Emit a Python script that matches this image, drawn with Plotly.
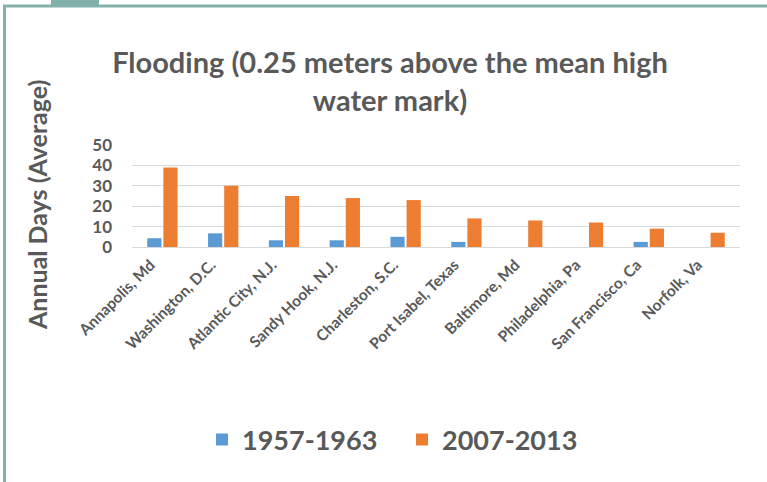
import plotly.graph_objects as go

cities = ["Annapolis, Md", "Washington, D.C.", "Atlantic City, N.J.", "Sandy Hook, N.J.",
          "Charleston, S.C.", "Port Isabel, Texas", "Baltimore, Md", "Philadelphia, Pa",
          "San Francisco, Ca", "Norfolk, Va"]
days_1957_1963 = [4.3, 6.7, 3.3, 3.3, 5.0, 2.5, 0, 0, 2.5, 0]
days_2007_2013 = [39, 30, 25, 24, 23, 14, 13, 12, 9, 7]
y_ticks = [0, 10, 20, 30, 40, 50]

W, H = 767, 482
L, R, T, B = 132, 740, 145, 247
TEXT = "#595959"
FONT = "Lato"
BORDER = "#82B0AA"


def px_x(px):
    return (px - L) / (R - L)


def px_y(py):
    return (B - py) / (B - T)


fig = go.Figure()
fig.add_trace(go.Bar(x=cities, y=days_1957_1963, name="1957-1963",
                     marker=dict(color="#5B9BD5", line=dict(width=0))))
fig.add_trace(go.Bar(x=cities, y=days_2007_2013, name="2007-2013",
                     marker=dict(color="#ED7D31", line=dict(width=0))))

fig.update_layout(
    width=W, height=H,
    margin=dict(l=L, r=W - R, t=T, b=H - B, autoexpand=False),
    paper_bgcolor="white", plot_bgcolor="white",
    barmode="group", bargap=0.47, bargroupgap=0.12,
    font=dict(family=FONT, color=TEXT),
    title=dict(text="Flooding (0.25 meters above the mean high<br>water mark)",
               x=390 / W, xanchor="center", y=1 - 73 / H, yanchor="middle",
               font=dict(family=FONT, size=29, color=TEXT, weight=700)),
    xaxis=dict(tickangle=-45, tickfont=dict(family=FONT, size=15.5, color=TEXT, weight=700),
               showline=False, showgrid=False, ticks="", ticklabelshift=-12, ticklabelstandoff=5),
    yaxis=dict(range=[0, 50], tickvals=y_ticks, ticks="", ticklabelstandoff=19,
               tickfont=dict(family=FONT, size=17, color=TEXT, weight=700),
               showgrid=True, gridcolor="#D9D9D9", gridwidth=1,
               zeroline=True, zerolinecolor="#D9D9D9", zerolinewidth=1, showline=False),
    legend=dict(orientation="h", x=402 / W, xanchor="center", xref="container",
                y=1 - 440 / H, yanchor="middle", yref="container",
                font=dict(family=FONT, size=27, color=TEXT, weight=700),
                itemwidth=30, entrywidthmode="pixels", entrywidth=155),
    annotations=[dict(text="Annual Days (Average)", textangle=-90, showarrow=False,
                      xref="paper", yref="paper", x=px_x(37), y=px_y(205),
                      xanchor="center", yanchor="middle",
                      font=dict(family=FONT, size=25, color=TEXT, weight=700))],
    shapes=[
        dict(type="line", xref="paper", yref="paper", x0=px_x(3), x1=px_x(770),
             y0=px_y(6), y1=px_y(6), line=dict(color=BORDER, width=3)),
        dict(type="line", xref="paper", yref="paper", x0=px_x(4.5), x1=px_x(4.5),
             y0=px_y(5), y1=px_y(485), line=dict(color=BORDER, width=3)),
        dict(type="rect", xref="paper", yref="paper", x0=px_x(51), x1=px_x(99),
             y0=px_y(-2), y1=px_y(6), fillcolor=BORDER, line=dict(width=0)),
    ],
)

fig.write_html("out.html", config={"displayModeBar": False},
               post_script="document.body.style.margin='0';")
